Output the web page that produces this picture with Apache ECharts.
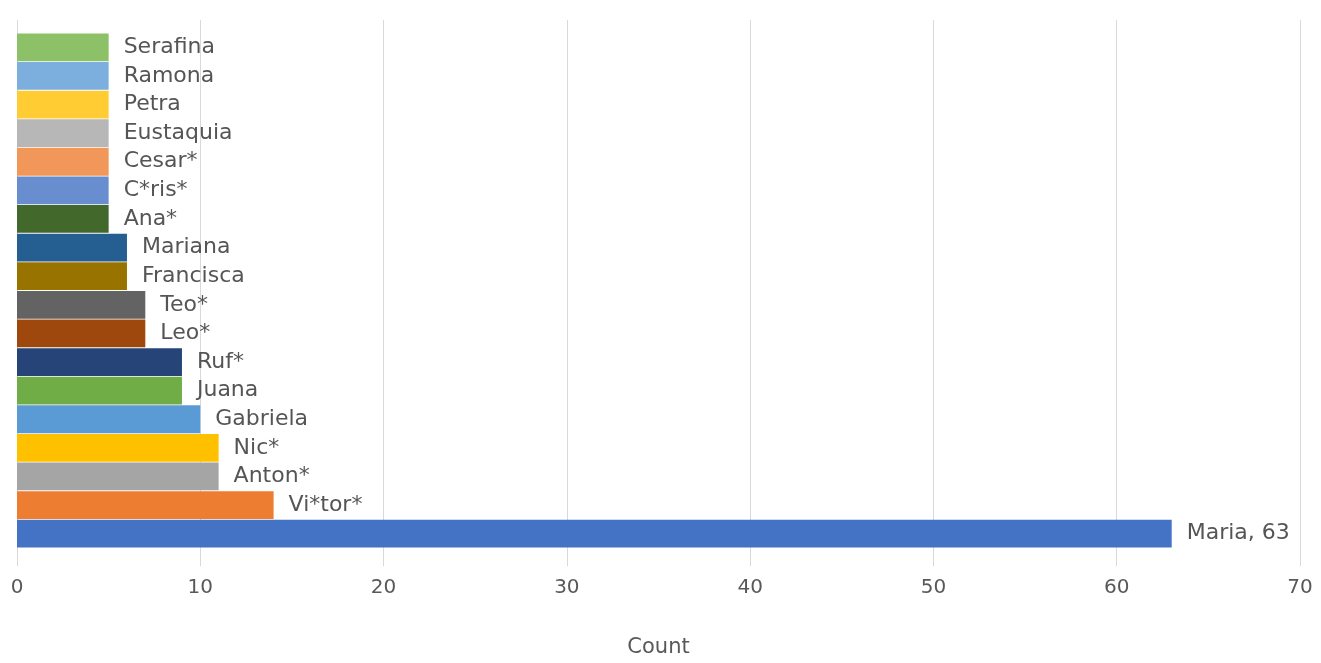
<!DOCTYPE html>
<html>
<head>
<meta charset="utf-8">
<script src="https://cdn.jsdelivr.net/npm/echarts@6/dist/echarts.min.js"></script>
<style>
  html, body { margin: 0; padding: 0; background: #fff; }
  #chart { width: 1321px; height: 663px; }
</style>
</head>
<body>
<div id="chart"></div>
<script>
// Names, bottom to top
const names = ['Maria', 'Vi*tor*', 'Anton*', 'Nic*', 'Gabriela', 'Juana', 'Ruf*', 'Leo*', 'Teo*',
  'Francisca', 'Mariana', 'Ana*', 'C*ris*', 'Cesar*', 'Eustaquia', 'Petra', 'Ramona', 'Serafina'];
const counts = [63, 14, 11, 11, 10, 9, 9, 7, 7, 6, 6, 5, 5, 5, 5, 5, 5, 5];
const barColors = ['#4472C4', '#ED7D31', '#A5A5A5', '#FFC000', '#5B9BD5', '#70AD47', '#264478',
  '#9E480E', '#636363', '#997300', '#255E91', '#43682B', '#698ED0', '#F1975A', '#B7B7B7',
  '#FFCD33', '#7CAFDD', '#8CC168'];
const xTicks = [0, 10, 20, 30, 40, 50, 60, 70];
const valueLabelFor = ['Maria'];

const font = '"DejaVu Sans", "Open Sans", sans-serif';
const chart = echarts.init(document.getElementById('chart'));

chart.setOption({
  animation: false,
  grid: [
    // frame carrying the gridlines and tick labels
    { left: 17, right: 21, top: 20, bottom: 92, containLabel: false },
    // frame carrying the bars
    { left: 17, right: 21, top: 33, bottom: 115, containLabel: false }
  ],
  xAxis: [
    {
      gridIndex: 0, type: 'value', min: xTicks[0], max: xTicks[xTicks.length - 1], interval: 10,
      name: 'Count', nameLocation: 'middle', nameGap: 71,
      nameTextStyle: { color: '#595959', fontSize: 21, fontFamily: font },
      axisLine: { show: false }, axisTick: { show: false },
      axisLabel: { color: '#595959', fontSize: 20, fontFamily: font, margin: 12 },
      splitLine: { show: true, lineStyle: { color: '#D9D9D9', width: 1 } }
    },
    {
      gridIndex: 1, type: 'value', min: xTicks[0], max: xTicks[xTicks.length - 1],
      show: false, splitLine: { show: false }
    }
  ],
  yAxis: [
    { gridIndex: 0, type: 'category', data: names, show: false },
    {
      gridIndex: 1, type: 'category', data: names, show: false,
      axisLine: { show: false }, axisTick: { show: false }, axisLabel: { show: false }
    }
  ],
  series: [{
    type: 'bar',
    xAxisIndex: 1, yAxisIndex: 1,
    barCategoryGap: '3%',
    data: counts.map((v, i) => ({ value: v, itemStyle: { color: barColors[i] } })),
    label: {
      show: true, position: 'right', distance: 15,
      color: '#555555', fontSize: 22, fontFamily: font,
      formatter: p => valueLabelFor.includes(p.name) ? p.name + ', ' + p.value : p.name
    }
  }]
});
</script>
</body>
</html>
